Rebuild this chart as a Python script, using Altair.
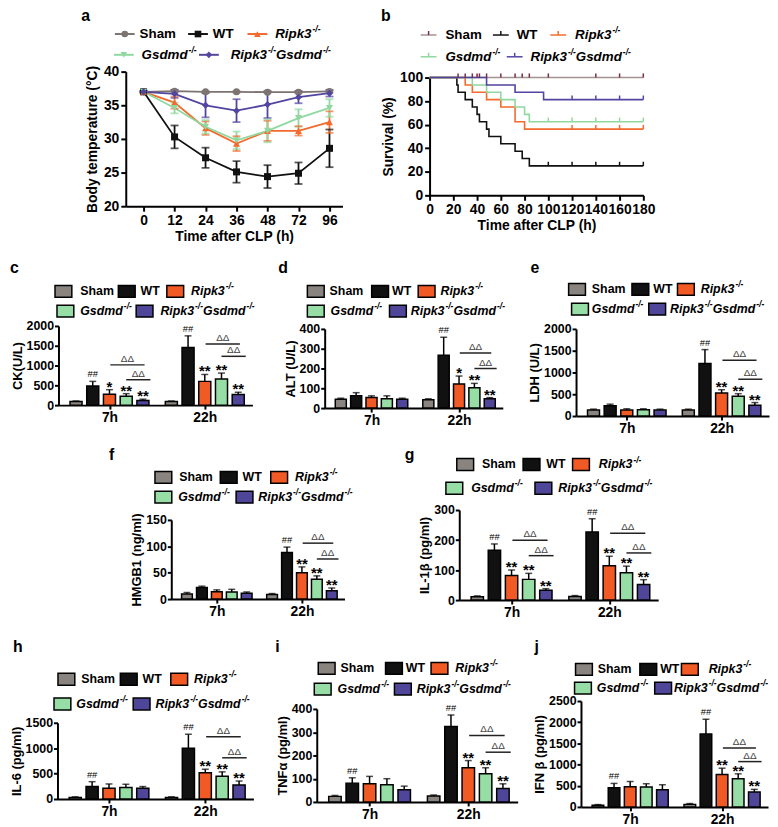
import altair as alt
import pandas as pd

FONT = "Liberation Sans"

# ---------------- data ----------------
GROUPS = ["Sham", "WT", "Ripk3", "Gsdmd", "Ripk3Gsdmd"]
BAR_COLORS = ["#8a8480", "#111111", "#f15a24", "#96dea5", "#4f4699"]
LINE_COLORS = ["#7d7370", "#111111", "#f26b2d", "#8fd8a0", "#5145a0"]
SURV_COLORS = ["#a39492", "#111111", "#f26b2d", "#8fd8a0", "#5145a0"]
CENS_COLORS = ["#7a2a4a", "#111111", "#f26b2d", "#8fd8a0", "#5145a0"]
SHAPES = ["circle", "square", "triangle-up", "triangle-down", "diamond"]

# panel a: body temperature
TIME_LABELS = ["0", "12", "24", "36", "48", "72", "96"]
TEMP_SHAM = [37.0, 37.1, 37.0, 37.0, 36.95, 36.95, 37.05]
TEMP_SHAM_ERR = [0.1, 0.2, 0.1, 0.1, 0.1, 0.15, 0.15]
TEMP_WT = [37.0, 30.3, 27.2, 25.1, 24.4, 24.9, 28.6]
TEMP_WT_ERR = [0.1, 1.7, 1.5, 1.6, 1.7, 1.6, 2.8]
TEMP_RIPK3 = [37.0, 35.4, 31.6, 29.3, 31.2, 31.2, 32.5]
TEMP_RIPK3_ERR = [0.1, 0.9, 1.0, 1.1, 1.5, 0.7, 1.6]
TEMP_GSDMD = [37.0, 34.6, 31.8, 29.8, 31.2, 33.1, 34.6]
TEMP_GSDMD_ERR = [0.1, 0.8, 1.0, 1.3, 1.7, 1.3, 1.3]
TEMP_DKO = [37.0, 36.7, 35.0, 34.2, 35.1, 36.2, 36.8]
TEMP_DKO_ERR = [0.1, 0.6, 1.8, 1.7, 2.0, 0.9, 0.5]

# panel b: survival
SURV_T_SHAM = [0, 180]
SURV_S_SHAM = [100, 100]
SURV_T_WT = [0, 23, 24, 30, 36, 40, 42, 48, 50, 60, 72, 78, 84, 180]
SURV_S_WT = [100, 93.75, 87.5, 81.25, 75, 68.75, 62.5, 56.25, 50, 43.75, 37.5, 31.25, 25, 25]
SURV_T_RIPK3 = [0, 30, 36, 48, 60, 72, 80, 180]
SURV_S_RIPK3 = [100, 93.75, 87.5, 81.25, 75, 62.5, 56.25, 56.25]
SURV_T_GSDMD = [0, 36, 48, 60, 72, 80, 84, 180]
SURV_S_GSDMD = [100, 93.75, 87.5, 81.25, 75, 68.75, 62.5, 62.5]
SURV_T_DKO = [0, 48, 72, 96, 180]
SURV_S_DKO = [100, 93.75, 87.5, 81.25, 81.25]
CENS_T_SHAM = [24, 30, 36, 40, 42, 48, 60, 72, 78, 84, 100, 140, 160, 180]
CENS_T_WT = [100, 120, 140, 160, 180]
CENS_T_RIPK3 = [120, 140, 160, 180]
CENS_T_GSDMD = [100, 120, 140, 160, 180]
CENS_T_DKO = [120, 140, 160, 180]

# bar panels: order = 7h (Sham, WT, Ripk3, Gsdmd, DKO), 22h (same)
CK_MEAN = [90, 483, 275, 225, 115, 90, 1458, 600, 658, 267]
CK_ERR = [15, 117, 115, 65, 35, 15, 292, 175, 152, 58]
ALT_MEAN = [45, 63, 53, 47, 45, 42, 267, 122, 103, 47]
ALT_ERR = [5, 15, 9, 15, 5, 5, 91, 40, 22, 6]
LDH_MEAN = [136, 234, 136, 143, 136, 136, 1208, 528, 453, 249]
LDH_ERR = [22, 38, 30, 23, 22, 22, 317, 76, 60, 60]
HMGB1_MEAN = [9.5, 22, 14, 13.5, 11, 8.5, 88.5, 50, 37.5, 16]
HMGB1_ERR = [3, 2.5, 3.5, 5, 2.5, 2, 10, 11, 6.5, 5]
IL1B_MEAN = [11, 166, 82, 69, 33, 12, 227, 114, 91, 52]
IL1B_ERR = [3, 21, 18, 20, 5, 3, 44, 32, 22, 16]
IL6_MEAN = [32, 245, 212, 225, 212, 32, 998, 515, 450, 277]
IL6_ERR = [10, 96, 84, 65, 33, 10, 277, 71, 84, 77]
TNF_MEAN = [24, 81, 78, 74, 53, 26, 324, 147, 121, 58]
TNF_ERR = [4, 23, 32, 26, 15, 4, 50, 31, 26, 20]
IFN_MEAN = [40, 453, 477, 469, 406, 60, 1719, 766, 664, 352]
IFN_ERR = [15, 102, 123, 78, 117, 20, 351, 148, 117, 62]

LAB_C = ["", "##", "*", "**", "**", "", "##", "**", "**", "**"]
LAB_D = ["", "", "", "", "", "", "##", "*", "**", "**"]
LAB_E = ["", "", "", "", "", "", "##", "**", "**", "**"]
LAB_F = ["", "", "", "", "", "", "##", "**", "**", "**"]
LAB_G = ["", "##", "**", "**", "**", "", "##", "**", "**", "**"]
LAB_H = ["", "##", "", "", "", "", "##", "**", "**", "**"]
LAB_I = ["", "##", "", "", "", "", "##", "**", "**", "**"]
LAB_J = ["", "##", "", "", "", "", "##", "**", "**", "**"]

# significance bars: (time group, upper line value, lower line value)
SIG_C = [(0, 1017, 642), (1, 1542, 1233)]
SIG_D = [(1, 278, 200)]
SIG_E = [(1, 1283, 845)]
SIG_F = [(1, 106, 76)]
SIG_G = [(0, 199, 148), (1, 223, 157)]
SIG_H = [(1, 1223, 811)]
SIG_I = [(1, 286, 214)]
SIG_J = [(1, 1390, 1070)]

# ---------------- layout helpers ----------------
DUMMY = pd.DataFrame({"d": [0]})
W_TOTAL, H_TOTAL = 770, 819
GROUP_OFFSET = 5.7
XDOM = [-1.05, 10.55]
BAR_HALF = 0.36
LEG_FS = 12.5


def cx(a, p):
    return a + p["dx"] - 8


def cy(a, p):
    return a - 3 - 2 * p["row"]


AW = {'S': 667, 'h': 611, 'a': 556, 'm': 889, 'W': 944, 'T': 611, 'R': 722, 'i': 278,
      'p': 611, 'k': 556, '3': 556, 'G': 778, 's': 556, 'd': 611, '-': 333, '/': 278}


def tw(s, size):
    return sum(AW.get(c, 556) for c in s) * size / 1000.0


LEG_PARTS = [[("Sham", False)], [("WT", False)], [("Ripk3", False), ("-/-", True)],
             [("Gsdmd", False), ("-/-", True)],
             [("Ripk3", False), ("-/-", True), ("Gsdmd", False), ("-/-", True)]]


def vtext(text, x, y, size, weight="bold", style="normal", align="left",
          baseline="middle", color="black"):
    return alt.Chart(DUMMY).mark_text(
        text=text, font=FONT, fontSize=size, fontWeight=weight, fontStyle=style,
        align=align, baseline=baseline, color=color
    ).encode(x=alt.value(x), y=alt.value(y))


def vrect(x1, x2, y1, y2, fill, stroke="black", sw=1.5):
    return alt.Chart(DUMMY).mark_rect(fill=fill, stroke=stroke, strokeWidth=sw).encode(
        x=alt.value(x1), x2=alt.value(x2), y=alt.value(y1), y2=alt.value(y2))


def vrule(x1, x2, y1, y2, color, sw):
    return alt.Chart(DUMMY).mark_rule(color=color, strokeWidth=sw).encode(
        x=alt.value(x1), x2=alt.value(x2), y=alt.value(y1), y2=alt.value(y2))


def legend(p, kind, fs):
    out = []
    for gi in range(5):
        y = cy(p["rows"][0 if gi < 3 else 1], p)
        sx = cx(p["items"][gi][0], p)
        tx = cx(p["items"][gi][1], p)
        if kind == "bar":
            out.append(vrect(sx - 8.5, sx + 8.5, y - 6, y + 6, BAR_COLORS[gi]))
        elif kind == "temp":
            out.append(vrule(sx - 10, sx + 10, y, y, LINE_COLORS[gi], 2))
            out.append(alt.Chart(DUMMY).mark_point(
                shape=SHAPES[gi], filled=True, size=45, color=LINE_COLORS[gi], opacity=1
            ).encode(x=alt.value(sx), y=alt.value(y)))
        else:
            out.append(vrule(sx - 8, sx + 8, y, y, SURV_COLORS[gi], 1.5))
            out.append(vrule(sx, sx, y - 4, y, CENS_COLORS[gi], 1.5))
        style = "normal" if gi < 2 else "italic"
        x = tx
        for text, sup in LEG_PARTS[gi]:
            if sup:
                out.append(vtext(text, x + 1, y - 5, 8.5, style=style))
                x += 1 + tw(text, 8.5)
            else:
                out.append(vtext(text, x, y, fs, style=style))
                x += tw(text, fs)
    lx, ly = p["letter_pos"]
    out.append(vtext(p["letter"], cx(lx, p), cy(ly, p), 16, baseline="alphabetic"))
    return out


def ranges(p):
    ox, oy = p["origin"]
    w, h = p["size"]
    return ([cx(ox, p), cx(ox + w, p)], [cy(oy + h, p), cy(oy, p)],
            -cx(ox, p), cy(oy + h, p) - H_TOTAL)


# ---------------- panels ----------------
def panel_temp(p):
    means = [TEMP_SHAM, TEMP_WT, TEMP_RIPK3, TEMP_GSDMD, TEMP_DKO]
    errs = [TEMP_SHAM_ERR, TEMP_WT_ERR, TEMP_RIPK3_ERR, TEMP_GSDMD_ERR, TEMP_DKO_ERR]
    rows = []
    for gi, g in enumerate(GROUPS):
        for i in range(len(TIME_LABELS)):
            m, e = means[gi][i], errs[gi][i]
            rows.append({"group": g, "idx": i, "mean": m, "lo": m - e, "hi": m + e})
    df = pd.DataFrame(rows)
    xr, yr, yoff, xoff = ranges(p)
    xs = alt.Scale(domain=[-0.575, 6.42], range=xr, nice=False, zero=False)
    ys = alt.Scale(domain=[20, 40], range=yr, nice=False, zero=False)
    arr = "[" + ",".join("'%s'" % t for t in TIME_LABELS) + "]"
    xax = alt.Axis(orient="bottom", offset=xoff, values=list(range(len(TIME_LABELS))),
                   labelExpr=arr + "[datum.value]", title="Time after CLP (h)",
                   labelFontSize=14, titleFontSize=14, tickSize=5, labelPadding=2,
                   titlePadding=3, labelFlush=False, labelOverlap=False)
    yax = alt.Axis(orient="left", offset=yoff, values=[20, 25, 30, 35, 40],
                   title="Body temperature (°C)", labelFontSize=14, titleFontSize=14,
                   tickSize=5, titlePadding=4, labelOverlap=False)
    X = lambda f: alt.X(f, scale=xs, axis=xax)
    Y = lambda f: alt.Y(f, scale=ys, axis=yax)
    col = alt.Color("group:N", scale=alt.Scale(domain=GROUPS, range=LINE_COLORS), legend=None)
    base = alt.Chart(df)
    lines = base.mark_line(strokeWidth=1.8).encode(x=X("idx:Q"), y=Y("mean:Q"), color=col)
    ebar = base.mark_rule(strokeWidth=1.8).encode(x=X("idx:Q"), y=Y("lo:Q"), y2="hi", color=col)
    cap1 = base.mark_tick(orient="horizontal", size=8, thickness=1.8).encode(
        x=X("idx:Q"), y=Y("lo:Q"), color=col)
    cap2 = base.mark_tick(orient="horizontal", size=8, thickness=1.8).encode(
        x=X("idx:Q"), y=Y("hi:Q"), color=col)
    pts = base.mark_point(filled=True, size=50, opacity=1).encode(
        x=X("idx:Q"), y=Y("mean:Q"), color=col,
        shape=alt.Shape("group:N", scale=alt.Scale(domain=GROUPS, range=SHAPES), legend=None))
    return alt.layer(lines, ebar, cap1, cap2, pts, *legend(p, "temp", 13.5))


def panel_surv(p):
    ts = [SURV_T_SHAM, SURV_T_WT, SURV_T_RIPK3, SURV_T_GSDMD, SURV_T_DKO]
    ss = [SURV_S_SHAM, SURV_S_WT, SURV_S_RIPK3, SURV_S_GSDMD, SURV_S_DKO]
    cs = [CENS_T_SHAM, CENS_T_WT, CENS_T_RIPK3, CENS_T_GSDMD, CENS_T_DKO]
    rows, crow = [], []
    for gi, g in enumerate(GROUPS):
        for i, (t, s) in enumerate(zip(ts[gi], ss[gi])):
            rows.append({"group": g, "i": i, "t": t, "s": s})
        for t in cs[gi]:
            crow.append({"group": g, "t": t, "s": ss[gi][-1]})
    df = pd.DataFrame(rows)
    dc = pd.DataFrame(crow)
    xr, yr, yoff, xoff = ranges(p)
    xs = alt.Scale(domain=[0, 180], range=xr, nice=False, zero=False)
    ys = alt.Scale(domain=[0, 100], range=yr, nice=False)
    xax = alt.Axis(orient="bottom", offset=xoff, values=list(range(0, 181, 20)),
                   title="Time after CLP (h)", labelFontSize=14, titleFontSize=14,
                   labelOverlap=False, labelFlush=False, tickSize=5, labelPadding=2,
                   titlePadding=3)
    yax = alt.Axis(orient="left", offset=yoff, values=list(range(0, 101, 20)),
                   title="Survival (%)", labelFontSize=14, titleFontSize=14, tickSize=5,
                   titlePadding=4, labelOverlap=False)
    X = lambda f: alt.X(f, scale=xs, axis=xax)
    Y = lambda f: alt.Y(f, scale=ys, axis=yax)
    lines = alt.Chart(df).mark_line(interpolate="step-after", strokeWidth=1.6).encode(
        x=X("t:Q"), y=Y("s:Q"), order="i:Q",
        color=alt.Color("group:N", scale=alt.Scale(domain=GROUPS, range=SURV_COLORS), legend=None))
    cens = alt.Chart(dc).mark_point(shape="M0,0L0,-1", size=70, strokeWidth=1.5, filled=False,
                                    opacity=1).encode(
        x=X("t:Q"), y=Y("s:Q"),
        stroke=alt.Stroke("group:N", scale=alt.Scale(domain=GROUPS, range=CENS_COLORS), legend=None))
    return alt.layer(lines, cens, *legend(p, "surv", 13.5))


def panel_bar(p):
    pos = [k + g * GROUP_OFFSET for g in range(2) for k in range(5)]
    df = pd.DataFrame({"group": GROUPS * 2, "pos": pos, "mean": p["mean"],
                       "err": p["err"], "label": p["labels"]})
    df["x1"] = df["pos"] - BAR_HALF
    df["x2"] = df["pos"] + BAR_HALF
    df["top"] = df["mean"] + df["err"]
    df["zero"] = 0.0
    sig = []
    for g, ya, yb in p["sig"]:
        b = g * GROUP_OFFSET
        sig.append({"x1": b + 2.05, "x2": b + 4.1, "y": ya})
        sig.append({"x1": b + 3.0, "x2": b + 4.45, "y": yb})
    ds = pd.DataFrame(sig)
    ds["xm"] = (ds["x1"] + ds["x2"]) / 2
    ds["t"] = "ΔΔ"
    xr, yr, yoff, xoff = ranges(p)
    xs = alt.Scale(domain=XDOM, range=xr, nice=False, zero=False)
    ys = alt.Scale(domain=[0, p["ymax"]], range=yr, nice=False)
    xax = alt.Axis(orient="bottom", offset=xoff, values=[2, 2 + GROUP_OFFSET],
                   labelExpr="datum.value < 5 ? '7h' : '22h'", title=None, labelFontSize=14,
                   tickSize=4, labelPadding=2, labelFlush=False, labelOverlap=False)
    yax = alt.Axis(orient="left", offset=yoff, values=p["yticks"], title=p["ytitle"],
                   format="d", labelFontSize=12.5, titleFontSize=13, titlePadding=2, tickSize=4,
                   labelPadding=1, labelOverlap=False)
    X = lambda f: alt.X(f, scale=xs, axis=xax)
    Y = lambda f: alt.Y(f, scale=ys, axis=yax)
    base = alt.Chart(df)
    bars = base.mark_rect(stroke="black", strokeWidth=1.5).encode(
        x=X("x1:Q"), x2=alt.X2("x2"), y=Y("mean:Q"), y2=alt.Y2("zero"),
        fill=alt.Fill("group:N", scale=alt.Scale(domain=GROUPS, range=BAR_COLORS), legend=None))
    ebar = base.mark_rule(color="black", strokeWidth=1.5).encode(
        x=X("pos:Q"), y=Y("mean:Q"), y2=alt.Y2("top"))
    cap = base.mark_tick(orient="horizontal", size=7, thickness=1.5, color="black").encode(
        x=X("pos:Q"), y=Y("top:Q"))
    stars = base.transform_filter("datum.label == '*' || datum.label == '**'").mark_text(
        font=FONT, fontSize=15, fontWeight="bold", baseline="alphabetic", dy=2, color="black"
    ).encode(x=X("pos:Q"), y=Y("top:Q"), text="label:N")
    hashes = base.transform_filter("datum.label == '##'").mark_text(
        font=FONT, fontSize=9.5, fontWeight="normal", baseline="alphabetic", dy=-4, color="black"
    ).encode(x=X("pos:Q"), y=Y("top:Q"), text="label:N")
    sbase = alt.Chart(ds)
    slines = sbase.mark_rule(color="#222222", strokeWidth=1.5).encode(
        x=X("x1:Q"), x2=alt.X2("x2"), y=Y("y:Q"))
    stext = sbase.mark_text(font=FONT, fontSize=10, fontWeight="normal", baseline="alphabetic",
                            dy=-3, color="#444444").encode(x=X("xm:Q"), y=Y("y:Q"), text="t:N")
    return alt.layer(bars, ebar, cap, stars, hashes, slines, stext, *legend(p, "bar", LEG_FS))


# ---------------- panel specs (layout, in reference pixel coords) ----------------
PA = dict(letter="a", letter_pos=(79, 12), origin=(124, 63), size=(219, 136), row=0, dx=3,
          rows=(25, 46), items=[(123, 138), (197, 212), (257, 275), (122, 140), (208, 230)])
PB = dict(letter="b", letter_pos=(383, 12), origin=(432, 69), size=(216, 119), row=0, dx=2,
          rows=(26, 48), items=[(431, 448), (504, 520), (562, 579), (431, 448), (518, 534)])


def bp(letter, lp, origin, size, row, dx, rows, items, mean, err, labels, sig, ymax, ystep,
       ytitle):
    return dict(letter=letter, letter_pos=lp, origin=origin, size=size, row=row, dx=dx,
                rows=rows, items=items, mean=mean, err=err, labels=labels, sig=sig, ymax=ymax,
                yticks=list(range(0, ymax + 1, ystep)), ytitle=ytitle)


PC = bp("c", (5, 268), (54, 322), (196, 80), 1, 5, (287, 307),
        [(59, 76), (123, 137), (172, 188), (61, 76), (141, 157)],
        CK_MEAN, CK_ERR, LAB_C, SIG_C, 2000, 500, "CK(U/L)")
PD = bp("d", (278, 268), (325, 325), (180, 80), 1, 3, (287, 307),
        [(316, 330), (381, 393), (428, 442), (316, 331), (399, 412)],
        ALT_MEAN, ALT_ERR, LAB_D, SIG_D, 400, 100, "ALT (U/L)")
PE = bp("e", (536, 268), (582, 325), (195, 88), 1, 0, (285, 305),
        [(583, 598), (647, 660), (693, 708), (586, 598), (664, 677)],
        LDH_MEAN, LDH_ERR, LAB_E, SIG_E, 2000, 500, "LDH (U/L)")
PF = bp("f", (107, 459), (170, 520), (175, 80), 2, 3, (477, 497),
        [(162, 178), (228, 242), (279, 295), (162, 177), (244, 258)],
        HMGB1_MEAN, HMGB1_ERR, LAB_F, SIG_F, 150, 50, "HMGB1 (ng/ml)")
PG = bp("g", (407, 459), (462, 510), (201, 91), 2, 2, (464, 488),
        [(468, 485), (535, 550), (585, 603), (457, 474), (547, 562)],
        IL1B_MEAN, IL1B_ERR, LAB_G, SIG_G, 300, 100, "IL-1β  (pg/ml)")
PH = bp("h", (4, 655), (49, 727), (198, 77), 3, 9, (683, 708),
        [(58, 73), (121, 135), (172, 187), (54, 68), (134, 148)],
        IL6_MEAN, IL6_ERR, LAB_H, SIG_H, 1500, 500, "IL-6 (pg/ml)")
PI = bp("i", (275, 655), (317, 713), (203, 94), 3, 3, (672, 693),
        [(327, 341), (395, 407), (441, 457), (323, 338), (404, 418)],
        TNF_MEAN, TNF_ERR, LAB_I, SIG_I, 400, 100, "TNFα  (pg/ml)")
PJ = bp("j", (540, 655), (587, 705), (189, 107), 3, 0, (673, 692),
        [(590, 604), (655, 667), (697, 716), (589, 603), (670, 681)],
        IFN_MEAN, IFN_ERR, LAB_J, SIG_J, 2500, 500, "IFN β (pg/ml)")

panels = [panel_temp(PA), panel_surv(PB)] + [panel_bar(p) for p in (PC, PD, PE, PF, PG, PH, PI, PJ)]

chart = alt.layer(*panels).resolve_scale(
    x="independent", y="independent", color="independent", fill="independent",
    stroke="independent", shape="independent"
).properties(
    width=W_TOTAL, height=H_TOTAL, padding=0, background="white",
    autosize=alt.AutoSizeParams(type="none")
).configure_view(stroke=None).configure_axis(
    domainColor="black", domainWidth=2, tickColor="black", tickWidth=2,
    labelColor="black", labelFont=FONT, labelFontWeight="bold",
    titleFont=FONT, titleFontWeight="bold", titleColor="black", grid=False
)

chart.save("out.html", embed_options={"renderer": "svg", "actions": False})
